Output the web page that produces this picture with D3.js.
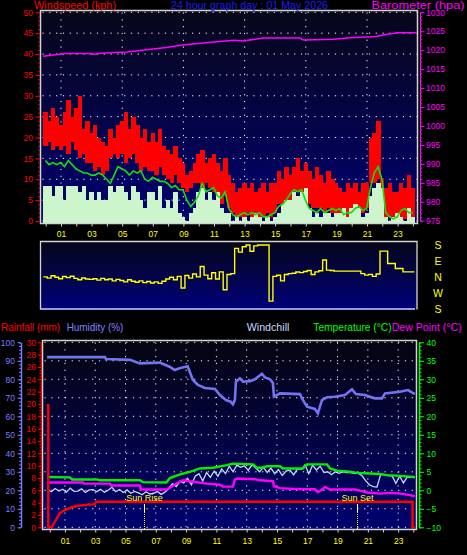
<!DOCTYPE html>
<html><head><meta charset="utf-8">
<script src="https://cdn.jsdelivr.net/npm/d3@7"></script>
<style>
html,body{margin:0;padding:0;background:#000;}
svg{display:block;background:#000;}
text{font-family:"Liberation Sans",Arial,sans-serif;}
</style></head><body>
<svg id="c" width="467" height="555"></svg>
<script>
// ---------------- DATA ----------------
const hourLabels = ["01","03","05","07","09","11","13","15","17","19","21","23"];
const labelHours = [1,3,5,7,9,11,13,15,17,19,21,23];
const windTicks = [0,5,10,15,20,25,30,35,40,45,50];
const baroTicks = [975,980,985,990,995,1000,1005,1010,1015,1020,1025,1030];
const dirLabels = ["S","E","N","W","S"];
const dirTicks = [180,90,0,-90,-180];
const humTicks = [0,10,20,30,40,50,60,70,80,90,100];
const rainTicks = [0,2,4,6,8,10,12,14,16,18,20,22,24,26,28,30];
const tempTicks = [-10,-5,0,5,10,15,20,25,30,35,40];

// wind samples: every 15 minutes starting at -0.15 h
const windStart = -0.15, windStep = 0.25;
const gustHigh = [26,24,27,25, 23,26,29,25, 27,30,22,24, 21,23,20,19, 18,22,20,23, 24,26,22,25,
  23,20,22,19, 21,19,22,18, 17,16,18,15, 14,11,12,14, 16,17,14,15, 16,14,12,15,
  11,9,7,8, 9,8,9,7, 8,9,7,9, 9,12,10,13, 11,13,15,12, 14,12,10,13,
  11,9,12,10, 9,8,7,9, 8,9,7,9, 9,20,21,24, 10,8,9,7, 7,9,8,11, 8];
const gustLow = [18,19,17,18, 17,18,16,19, 17,15,16,14, 14,12,13,11, 12,15,16,15, 16,14,15,16,
  14,12,13,12, 12,11,13,11, 10,9,11,9, 8,7,8,9, 9,8,9,8, 7,5,4,6,
  3,2,1,1, 1,2,1,2, 1,1,2,1, 2,4,3,5, 5,6,7,6, 7,4,3,3,
  3,2,3,2, 2,1,2,1, 1,1,2,2, 3,9,9,10, 3,1,1,1, 1,1,0.5,1, 1];
const windSpeed = [8.5,8.5,6,8.5, 8.5,5,8.5,8.5, 8.5,7,8.5,5, 7,5,7,5, 5,8.5,7,8.5, 8.5,7,5,8.5,
  7,5,3,7, 7,5,8.5,3, 5,3,7,2, 1,0,2,3, 7,8,5,7, 5,7,3,2,
  2,0,1,0, 1,0,1,2, 1,0,1,0, 1,2,4,5, 5,7,6,7, 8,3,1,2,
  1,2,2,1, 2,2,3,1, 3,4,3,1, 2,6,8,9, 8,1,0,1, 2,1,0,3, 1];
const windAvg = [14.5,13.5,14,13.5, 14,13,14.5,13.5, 12.5,12,11.5,11.5, 11,11,11.5,11, 10,9,11,13, 12.5,12,11,12,
  11.5,12,10,9.5, 10.5,10,9.5,9.5, 9,8,8.5,7.5, 7.5,5,3.5,4.5, 6,9,7,7.5, 8,6,5.5,7,
  3,1.5,1,1.5, 2,1.5,2,1.5, 2,1,1,1.5, 2,3.5,4,5, 6.5,7.5,7,7.5, 5,3,2.5,2,
  3,2,2.5,3, 2.5,3,1.5,2, 2,3,3.5,2.5, 3,8,11.5,13, 10,2,1,0.5, 1,2.5,3,2, 2];
const windDir = [2,-5,8,0, -8,4,-2,6, -6,-14,-4,-10, -12,-8,-16,-6, -14,-10,-20,-12, -18,-26,-14,-22,
  -28,-20,-30,-24, -32,-26,-34,-22, -10,0,-14,5, -60,10,-5,18, 2,60,12,-8, 25,-10,30,-70,
  15,20,161,140, 170,180,145,175, 180,180,180,-133, 5,11,-20,15, 20,22,29,26, 32,38,15,30,
  36,96,40,38, 34,34,34,34, 34,34,34,20, 12,16,5,18, 146,146,77,77, 49,49,30,30, 30,30];

const baroHours = [-0.18,0.9,1.2,3.0,3.05,3.3,3.4,4.2,5.3,6.2,7.0,7.9,8.8,10.1,11.2,12.3,12.9,14.2,16.6,16.85,18.8,19.9,21.6,22.4,23.0,24.2];
const baroValues = [1018.4,1018.9,1019.1,1019.1,1018.9,1018.9,1019.1,1019.3,1019.5,1019.9,1020.3,1020.7,1021.3,1021.8,1022.2,1022.6,1022.4,1023.2,1023.2,1022.7,1022.9,1023.3,1023.6,1024.3,1024.6,1024.6];

const humHours = [-0.18,3.64,3.71,5.29,5.95,7.25,7.91,8.24,8.57,9.1,9.45,9.78,10.24,10.91,11.23,11.63,11.96,12.09,12.22,12.29,12.55,12.75,13.22,13.54,14.01,14.21,14.54,14.73,14.8,15.2,16.52,16.65,16.98,17.5,17.7,17.97,18.3,18.82,19.49,19.95,20.21,20.8,21.46,21.93,22.13,23.12,23.65,24.1];
const humValues = [92,92,91,90.5,88.6,89,86.8,85,86,87,79.6,77,75.3,74.8,71.5,68.8,67.8,66.5,68.8,78.7,80.5,78.7,79,80,83,81,80,78,70.6,72.4,72,69.7,65.2,64,61.6,68.8,70.3,70.6,71.5,74.6,72,71.5,69.7,69.7,72.4,73.3,74.2,72];

const tempHours = [-0.18,1.33,1.47,3.12,3.31,5.95,6.15,7.7,7.93,8.6,9.25,9.91,10.77,11.7,12.09,13.41,13.68,14.0,14.34,15.2,15.39,16.71,16.98,18.3,18.5,18.96,19.82,20.28,21.8,22.26,23.12,23.78,24.1];
const tempValues = [3.6,3.5,2.9,2.9,2.7,2.7,2.2,2.1,3.3,4.3,5.0,5.9,6.1,6.8,7.2,7.0,6.1,6.1,6.5,6.5,5.9,5.9,7.0,7.0,5.9,5.3,5.0,4.7,4.4,4.1,3.9,3.7,3.6];

const dewHours = [-0.18,2.19,2.26,3.97,4.04,5.95,6.02,7.74,7.93,8.4,8.79,9.45,10.38,11.24,11.43,12.09,12.22,12.36,13.54,13.87,14.73,14.8,15.2,16.52,17.5,17.7,17.97,18.17,18.5,20.14,20.6,20.94,21.8,22.46,23.12,23.78,24.1];
const dewValues = [2.1,2.1,1.8,1.8,1.3,1.3,0.2,0.2,0.7,1.9,2.7,2.3,1.8,1.5,1.0,1.0,2.9,3.2,3.0,2.7,2.5,1.1,0.6,0.3,0.3,-0.5,0.2,0.9,0.2,0.2,-0.2,-0.6,-0.9,-0.7,-0.9,-1.3,-1.6];

// windchill: every 15 minutes starting at -0.15 h
const chillStart = -0.15, chillStep = 0.25;
const windChill = [0.2,-0.4,0.5,-0.2, 0.3,-0.5,0.6,-0.3, -0.2,0.4,-0.6,0.1, 0.2,-0.4,0.3,-0.5, 0.0,0.8,-0.4,0.2, -0.6,0.1,-0.8,-0.3,
  -0.7,-1.2,-0.4,-1.0, -0.8,-0.3,-1.1,-0.5, 0.5,1.8,1.0,2.5, 2.0,3.2,1.5,3.8, 4.5,2.5,4.8,3.5, 5.2,3.8,5.8,4.5,
  6.5,5.0,6.8,6.2, 6.6,5.4,6.9,6.0, 5.0,6.2,4.8,6.0, 4.5,5.6,4.0,5.2, 5.5,4.2,5.8,5.6, 6.9,4.5,6.8,5.5,
  6.5,4.8,5.0,4.2, 5.0,4.6,5.0,4.8, 4.8,4.6,4.6,4.0, 2.6,1.5,1.0,0.9, 4.3,4.2,4.0,3.9, 1.9,3.8,2.0,3.6, 3.5,3.4];

const rainHours = [-0.2,-0.1,-0.1,0.13,0.23,0.46,0.67,0.89,1.12,1.45,1.78,2.21,2.65,2.98,3.05,23.95,23.95,24.1];
const rainValues = [19.8,19.8,0,0,0.5,1.45,2.3,2.65,2.9,3.25,3.45,3.6,3.7,3.75,4.15,4.15,0,0];

const sunRiseHour = 6.24, sunSetHour = 20.3;

// ---------------- DRAW ----------------
const FONT = "Liberation Sans, Arial, sans-serif";
const fmt = d3.format("d");
const svg = d3.select("#c");
const defs = svg.append("defs");
function grad(id, c1, c2){
  const g = defs.append("linearGradient").attr("id",id).attr("x1",0).attr("y1",0).attr("x2",0).attr("y2",1);
  g.append("stop").attr("offset","0%").attr("stop-color",c1);
  g.append("stop").attr("offset","100%").attr("stop-color",c2);
}
grad("gTop","#07071a","#000072");
grad("gDir","#06061a","#00007a");
grad("gBot","#050510","#000070");
function clip(id,x,y,w,h){ defs.append("clipPath").attr("id",id).append("rect").attr("x",x).attr("y",y).attr("width",w).attr("height",h); }
function styleAxis(g,color,fs){ g.attr("color",color).attr("font-size",fs).attr("font-family",FONT); }
function title(x,y,txt,color,len,fs){
  svg.append("text").attr("x",x).attr("y",y).attr("fill",color).attr("font-size",fs||11)
    .attr("textLength",len).attr("lengthAdjust","spacingAndGlyphs").text(txt);
}

// ---- top chart ----
const T = {x0:40.5,x1:417.5,y0:10.5,y1:223.5};
const xTop = d3.scaleLinear().domain([0,24]).range([45.7,412.9]);
const yWind = d3.scaleLinear().domain([0,50]).range([221,12.3]);
const yBaro = d3.scaleLinear().domain([975,1030]).range([220.7,12.3]);

svg.append("rect").attr("x",T.x0).attr("y",T.y0).attr("width",T.x1-T.x0).attr("height",T.y1-T.y0).attr("fill","url(#gTop)");
clip("cTop",T.x0,T.y0,T.x1-T.x0,T.y1-T.y0);
const gt = svg.append("g").attr("clip-path","url(#cTop)");
// grid
gt.append("g").selectAll("line").data(windTicks).join("line")
  .attr("x1",T.x0+2).attr("x2",T.x1).attr("y1",d=>yWind(d)).attr("y2",d=>yWind(d))
  .attr("stroke","#fff").attr("stroke-dasharray","1.2,5.6");
gt.append("g").selectAll("line").data([1,5,9,13,17,21]).join("line")
  .attr("x1",d=>xTop(d)).attr("x2",d=>xTop(d)).attr("y1",T.y0+2).attr("y2",T.y1)
  .attr("stroke","#fff").attr("stroke-dasharray","1.2,5.6");
const wh = i => windStart + i*windStep;
gt.append("g").attr("shape-rendering","crispEdges").selectAll("rect").data(gustHigh).join("rect")
  .attr("x",(d,i)=>xTop(wh(i))).attr("width",(d,i)=>xTop(wh(i+1))-xTop(wh(i))+0.5)
  .attr("y",d=>yWind(d)).attr("height",(d,i)=>yWind(gustLow[i])-yWind(d))
  .attr("fill","#ff0000");
gt.append("g").attr("shape-rendering","crispEdges").selectAll("rect").data(windSpeed).join("rect")
  .attr("x",(d,i)=>xTop(wh(i))).attr("width",(d,i)=>xTop(wh(i+1))-xTop(wh(i))+0.5)
  .attr("y",d=>yWind(d)).attr("height",d=>T.y1-yWind(d))
  .attr("fill","#ccf5cc");
gt.append("path").datum(windAvg)
  .attr("d",d3.line().x((d,i)=>xTop(wh(i)+windStep/2)).y(d=>yWind(d)))
  .attr("fill","none").attr("stroke","#10e010").attr("stroke-width",1.6);
gt.append("path").datum(baroValues)
  .attr("d",d3.line().x((d,i)=>xTop(baroHours[i])).y(d=>yBaro(d)))
  .attr("fill","none").attr("stroke","#ff00ff").attr("stroke-width",1.5);
svg.append("rect").attr("x",T.x0).attr("y",T.y0).attr("width",T.x1-T.x0).attr("height",T.y1-T.y0)
  .attr("fill","none").attr("stroke","#d4d4d4").attr("stroke-width",1.5);
// axes
svg.append("g").attr("transform","translate(39.5,0)")
  .call(d3.axisLeft(yWind).tickValues(d3.range(0,51,1)).tickSize(1.5).tickFormat(""))
  .call(g=>{styleAxis(g,"#ff0000",8);g.select(".domain").remove();});
svg.append("g").attr("transform","translate(39.5,0)")
  .call(d3.axisLeft(yWind).tickValues(windTicks).tickSize(4).tickPadding(2.5).tickFormat(fmt))
  .call(g=>{styleAxis(g,"#ff0000",8.5);g.select(".domain").remove();});
svg.append("g").attr("transform","translate(420,0)")
  .call(d3.axisRight(yBaro).tickValues(d3.range(975,1031,1)).tickSize(2).tickSizeOuter(0).tickFormat(""))
  .call(g=>styleAxis(g,"#ff00ff",8));
svg.append("g").attr("transform","translate(420,0)")
  .call(d3.axisRight(yBaro).tickValues(baroTicks).tickSize(4.5).tickSizeOuter(0).tickPadding(1.5).tickFormat(fmt))
  .call(g=>{styleAxis(g,"#ff00ff",8.5);g.select(".domain").remove();});
svg.append("g").attr("transform",`translate(0,${T.y1})`)
  .call(d3.axisBottom(xTop).tickValues(d3.range(0,25,1)).tickSize(3).tickFormat(""))
  .call(g=>{styleAxis(g,"#d4d4d4",8);g.select(".domain").remove();});
svg.append("g").attr("transform","translate(0,231.3)")
  .call(d3.axisBottom(xTop).tickValues(labelHours).tickSize(0).tickPadding(0).tickFormat((d,i)=>hourLabels[i]))
  .call(g=>{styleAxis(g,"#ffff00",8.5);g.select(".domain").remove();});
title(34,9.4,"Windspeed (kph)","#ff0000",82,10.3);
title(171,9.4,"24 hour graph day : 01 May 2026","#1a1aff",157,10.3);
title(371.5,9.4,"Barometer (hpa)","#ff00ff",93,10.3);

// ---- wind direction ----
const D = {x0:40.5,x1:417,y0:241.5,y1:309.5};
const yDir = d3.scaleLinear().domain([180,-180]).range([245,309.5]);
svg.append("rect").attr("x",D.x0).attr("y",D.y0).attr("width",D.x1-D.x0).attr("height",D.y1-D.y0).attr("fill","url(#gDir)");
clip("cDir",D.x0,D.y0,D.x1-D.x0,D.y1-D.y0);
svg.append("g").attr("clip-path","url(#cDir)").append("path").datum(windDir)
  .attr("d",d3.line().x((d,i)=>xTop(wh(i))).y(d=>yDir(d)).curve(d3.curveStepAfter))
  .attr("fill","none").attr("stroke","#ffff00").attr("stroke-width",1.4);
svg.append("path").attr("d",`M${D.x0},${D.y1}V${D.y0}H${D.x1}V${D.y1}`)
  .attr("fill","none").attr("stroke","#d4d4d4").attr("stroke-width",1.3);
svg.append("line").attr("x1",D.x0).attr("x2",D.x1-2).attr("y1",D.y1-0.5).attr("y2",D.y1-0.5)
  .attr("stroke","#c8d0ff").attr("stroke-width",1.3);
svg.append("g").selectAll("text").data(dirTicks).join("text")
  .attr("x",438).attr("y",d=>yDir(d)).attr("dy","0.36em").attr("text-anchor","middle")
  .attr("fill","#ffff00").attr("font-size",10.5).text((d,i)=>dirLabels[i]);

// ---- bottom chart ----
const B = {x0:42.5,x1:416.5,y0:340.5,y1:529.5};
const xBot = d3.scaleLinear().domain([0,24]).range([49.8,413.3]);
const yHum = d3.scaleLinear().domain([0,100]).range([527.3,342.3]);
const yRain = d3.scaleLinear().domain([0,30]).range([527.3,342.3]);
const yTemp = d3.scaleLinear().domain([-10,40]).range([527.3,342.3]);

svg.append("rect").attr("x",B.x0).attr("y",B.y0).attr("width",B.x1-B.x0).attr("height",B.y1-B.y0).attr("fill","url(#gBot)");
clip("cBot",B.x0,B.y0,B.x1-B.x0,B.y1-B.y0);
const gb = svg.append("g").attr("clip-path","url(#cBot)");
gb.append("g").selectAll("line").data(tempTicks).join("line")
  .attr("x1",B.x0+2).attr("x2",B.x1).attr("y1",d=>yTemp(d)).attr("y2",d=>yTemp(d))
  .attr("stroke","#fff").attr("stroke-dasharray","1.2,5.6");
gb.append("g").selectAll("line").data(labelHours).join("line")
  .attr("x1",d=>xBot(d)).attr("x2",d=>xBot(d)).attr("y1",B.y0+2).attr("y2",B.y1)
  .attr("stroke","#fff").attr("stroke-dasharray","1.2,5.6");
gb.append("path").datum(humValues)
  .attr("d",d3.line().x((d,i)=>xBot(humHours[i])).y(d=>yHum(d)))
  .attr("fill","none").attr("stroke","#7474ee").attr("stroke-width",2.6);
gb.append("path").datum(windChill)
  .attr("d",d3.line().x((d,i)=>xBot(chillStart+i*chillStep)).y(d=>yTemp(d)))
  .attr("fill","none").attr("stroke","#c4d8ff").attr("stroke-width",1.3);
gb.append("path").datum(dewValues)
  .attr("d",d3.line().x((d,i)=>xBot(dewHours[i])).y(d=>yTemp(d)))
  .attr("fill","none").attr("stroke","#ff00ff").attr("stroke-width",2.4);
gb.append("path").datum(tempValues)
  .attr("d",d3.line().x((d,i)=>xBot(tempHours[i])).y(d=>yTemp(d)))
  .attr("fill","none").attr("stroke","#00f000").attr("stroke-width",2.4);
gb.append("path").datum(rainValues)
  .attr("d",d3.line().x((d,i)=>xBot(rainHours[i])).y(d=>yRain(d)))
  .attr("fill","none").attr("stroke","#ff0000").attr("stroke-width",2.4);
// sun markers
[[sunRiseHour,"Sun Rise"],[sunSetHour,"Sun Set"]].forEach(([h,lab])=>{
  const x = Math.round(xBot(h))+0.5;
  svg.append("text").attr("x",x).attr("y",501).attr("text-anchor","middle").attr("fill","#ffff00").attr("font-size",9).text(lab);
  svg.append("line").attr("x1",x).attr("x2",x).attr("y1",504).attr("y2",512).attr("stroke","#fff").attr("stroke-width",1);
  svg.append("line").attr("x1",x).attr("x2",x).attr("y1",512).attr("y2",B.y1).attr("stroke","#ffff00").attr("stroke-width",1).attr("stroke-dasharray","1,1");
});
svg.append("rect").attr("x",B.x0).attr("y",B.y0).attr("width",B.x1-B.x0).attr("height",B.y1-B.y0)
  .attr("fill","none").attr("stroke","#d4d4d4").attr("stroke-width",1.5);
// bottom axes
svg.append("g").attr("transform","translate(21,0)")
  .call(d3.axisLeft(yHum).tickValues(d3.range(0,101,2)).tickSize(2).tickSizeOuter(0).tickFormat(""))
  .call(g=>{styleAxis(g,"#7b7bff",8);g.select(".domain").attr("stroke-width",1.5);});
svg.append("g").attr("transform","translate(21,0)")
  .call(d3.axisLeft(yHum).tickValues(humTicks).tickSize(3.5).tickPadding(2.5).tickFormat(fmt))
  .call(g=>{styleAxis(g,"#7b7bff",8.5);g.select(".domain").remove();});
svg.append("g").attr("transform","translate(41,0)")
  .call(d3.axisLeft(yRain).tickValues(d3.range(0,30.01,0.5)).tickSize(1.5).tickSizeOuter(0).tickFormat(""))
  .call(g=>styleAxis(g,"#ff0000",8));
svg.append("g").attr("transform","translate(41,0)")
  .call(d3.axisLeft(yRain).tickValues(rainTicks).tickSize(3).tickPadding(2).tickFormat(fmt))
  .call(g=>{styleAxis(g,"#ff0000",8.5);g.select(".domain").remove();});
svg.append("g").attr("transform","translate(419,0)")
  .call(d3.axisRight(yTemp).tickValues(d3.range(-10,41,1)).tickSize(2.5).tickSizeOuter(0).tickFormat(""))
  .call(g=>{styleAxis(g,"#00ff00",8);g.select(".domain").attr("stroke-width",1.5);});
svg.append("g").attr("transform","translate(419,0)")
  .call(d3.axisRight(yTemp).tickValues(tempTicks).tickSize(5).tickPadding(2.5).tickFormat(fmt))
  .call(g=>{styleAxis(g,"#00ff00",8.5);g.select(".domain").remove();});
svg.append("g").attr("transform",`translate(0,${B.y1})`)
  .call(d3.axisBottom(xBot).tickValues(d3.range(0,25,1)).tickSize(3).tickFormat(""))
  .call(g=>{styleAxis(g,"#d4d4d4",8);g.select(".domain").remove();});
svg.append("g").attr("transform","translate(0,538.2)")
  .call(d3.axisBottom(xBot).tickValues(labelHours).tickSize(0).tickPadding(0).tickFormat((d,i)=>hourLabels[i]))
  .call(g=>{styleAxis(g,"#ffff00",8.5);g.select(".domain").remove();});
title(1,331,"Rainfall (mm)","#ff0000",59);
title(66.7,331,"Humidity (%)","#8080ff",56.7);
title(246.7,331,"Windchill","#c8d8ff",42.7);
title(313.3,331,"Temperature (°C)","#00ff00",78.3);
title(391.7,331,"Dew Point (°C)","#ff00ff",70);
</script>
</body></html>
